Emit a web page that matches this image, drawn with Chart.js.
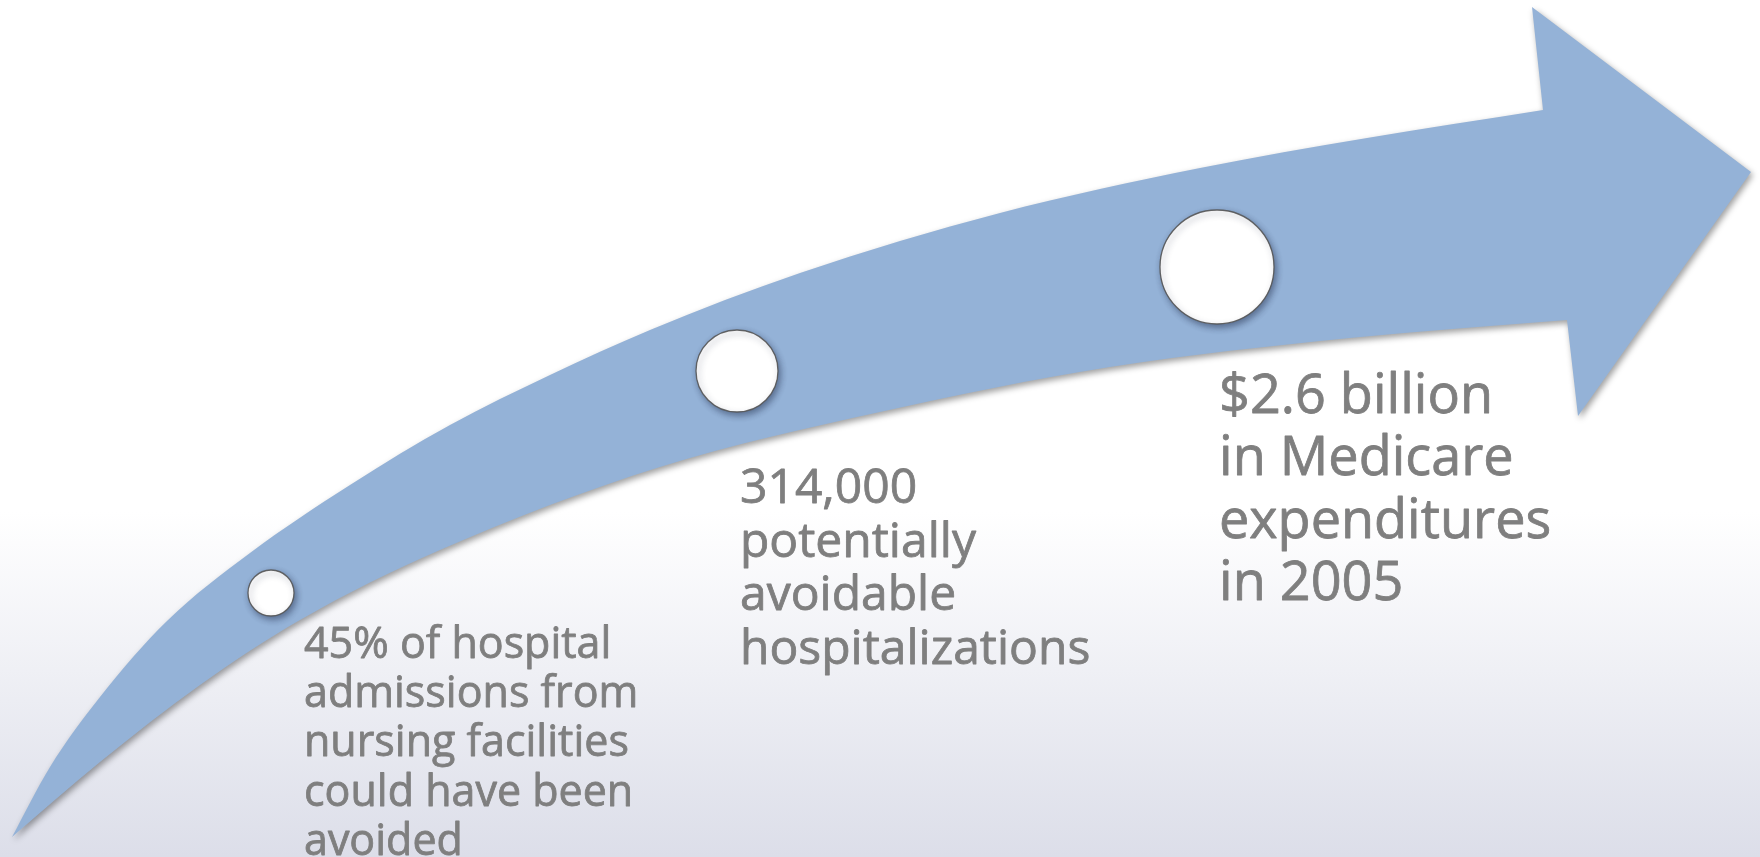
<!DOCTYPE html>
<html>
<head>
<meta charset="utf-8">
<script src="https://cdn.jsdelivr.net/npm/chart.js@4.4.1/dist/chart.umd.min.js"></script>
<style>
  html, body { margin: 0; padding: 0; width: 1760px; height: 857px; overflow: hidden; }
  body { background: linear-gradient(to bottom, #ffffff 0px, #ffffff 512px, #dcdee9 857px); }
  #wrap { position: relative; width: 1760px; height: 857px; }
  canvas { display: block; }
</style>
</head>
<body>
<div id="wrap"><canvas id="chart" width="1760" height="857"></canvas></div>
<script>
// ---- Data ----
// Arrow outline (upper edge, lower edge, head)
const upperEdgeX = [12, 50, 100, 167, 250, 350, 450, 550, 650, 800, 1000, 1200, 1367, 1543];
const upperEdgeY = [837, 767, 697, 621, 553, 485, 425, 375, 330, 273, 213, 168, 138, 110];
const lowerEdgeX = [12, 100, 200, 300, 440, 660, 880, 1110, 1350, 1567];
const lowerEdgeY = [837, 762, 685, 620, 550, 467, 412, 367, 338, 320];
const headX = [1543, 1532, 1751, 1578, 1567];
const headY = [110, 7, 172, 416, 320];

// Milestones along the arrow
const milestoneX = [271, 737, 1217];
const milestoneY = [593, 371, 267];

// Milestone captions
const note1 = ['45% of hospital', 'admissions from', 'nursing facilities', 'could have been', 'avoided'];
const note2 = ['314,000', 'potentially', 'avoidable', 'hospitalizations'];
const note3 = ['$2.6 billion', 'in Medicare', 'expenditures', 'in 2005'];

// ---- Layout / style (not data) ----
const ARROW_COLOR = '#94b2d7';
const TEXT_COLOR = '#7f7f7f';
const markerRadius = [23, 41, 57];
const noteLayout = [
  { lines: note1, x: 304, y: 658, size: 43, pitch: 49.2 },
  { lines: note2, x: 740, y: 503, size: 48, pitch: 53.5 },
  { lines: note3, x: 1219, y: 413, size: 54, pitch: 62.3 }
];

const toPts = (xs, ys) => xs.map((x, i) => ({ x: x, y: ys[i] }));

const arrowPlugin = {
  id: 'arrowBody',
  beforeDatasetsDraw(chart) {
    const ctx = chart.ctx;
    const up = chart.getDatasetMeta(0).dataset;
    const lo = chart.getDatasetMeta(1).dataset;
    const head = chart.getDatasetMeta(2).data;
    up.updateControlPoints(chart.chartArea, 'x');
    lo.updateControlPoints(chart.chartArea, 'x');
    ctx.save();
    ctx.beginPath();
    up.path(ctx);
    head.forEach(p => ctx.lineTo(p.x, p.y));
    lo.pathSegment(ctx, lo.segments[0], { move: false, reverse: true });
    ctx.closePath();
    ctx.shadowColor = 'rgba(0,0,0,0.38)';
    ctx.shadowBlur = 6;
    ctx.shadowOffsetX = 2;
    ctx.shadowOffsetY = 3;
    ctx.fillStyle = ARROW_COLOR;
    ctx.fill();
    ctx.restore();
  }
};

const markerShadowPlugin = {
  id: 'markerShadow',
  beforeDatasetDraw(chart, args) {
    if (args.index === 3) {
      const ctx = chart.ctx;
      ctx.save();
      ctx.shadowColor = 'rgba(20,30,60,0.45)';
      ctx.shadowBlur = 6;
      ctx.shadowOffsetX = 2;
      ctx.shadowOffsetY = 3;
    }
  },
  afterDatasetDraw(chart, args) {
    if (args.index === 3) chart.ctx.restore();
  }
};

const notesPlugin = {
  id: 'notes',
  afterDatasetsDraw(chart) {
    const ctx = chart.ctx;
    const sx = chart.scales.x, sy = chart.scales.y;
    ctx.save();
    ctx.fillStyle = TEXT_COLOR;
    ctx.strokeStyle = TEXT_COLOR;
    ctx.lineWidth = 0.8;
    ctx.lineJoin = 'round';
    ctx.textAlign = 'left';
    ctx.textBaseline = 'alphabetic';
    noteLayout.forEach(n => {
      ctx.font = n.size + 'px "Open Sans", "DejaVu Sans", sans-serif';
      n.lines.forEach((t, i) => {
        const px = sx.getPixelForValue(n.x), py = sy.getPixelForValue(n.y + i * n.pitch);
        ctx.fillText(t, px, py);
        ctx.strokeText(t, px, py);
      });
    });
    ctx.restore();
  }
};

const edgeStyle = {
  type: 'line',
  showLine: false,
  borderWidth: 0,
  pointRadius: 0,
  pointHoverRadius: 0,
  cubicInterpolationMode: 'monotone',
  fill: false,
  clip: false
};

function build() {
  new Chart(document.getElementById('chart'), {
    type: 'scatter',
    data: {
      datasets: [
        Object.assign({ label: 'upper edge', data: toPts(upperEdgeX, upperEdgeY) }, edgeStyle),
        Object.assign({ label: 'lower edge', data: toPts(lowerEdgeX, lowerEdgeY) }, edgeStyle),
        { type: 'line', label: 'head', data: toPts(headX, headY), showLine: false, borderWidth: 0,
          pointRadius: 0, pointHoverRadius: 0, tension: 0, fill: false, clip: false },
        { type: 'scatter', label: 'milestones', data: toPts(milestoneX, milestoneY),
          pointRadius: markerRadius, pointHoverRadius: markerRadius,
          backgroundColor: '#ffffff', borderColor: 'rgba(85,85,85,0.9)', borderWidth: 1.3, clip: false }
      ]
    },
    options: {
      responsive: false,
      animation: false,
      events: [],
      layout: { padding: 0, autoPadding: false },
      plugins: { legend: { display: false }, tooltip: { enabled: false }, title: { display: false } },
      scales: {
        x: { type: 'linear', min: 0, max: 1760, display: false },
        y: { type: 'linear', min: 0, max: 857, reverse: true, display: false }
      }
    },
    plugins: [arrowPlugin, markerShadowPlugin, notesPlugin]
  });
}

if (document.fonts && document.fonts.load) {
  Promise.all([
    document.fonts.load('43px "Open Sans"'),
    document.fonts.load('54px "Open Sans"')
  ]).then(build, build);
} else {
  build();
}
</script>
</body>
</html>
